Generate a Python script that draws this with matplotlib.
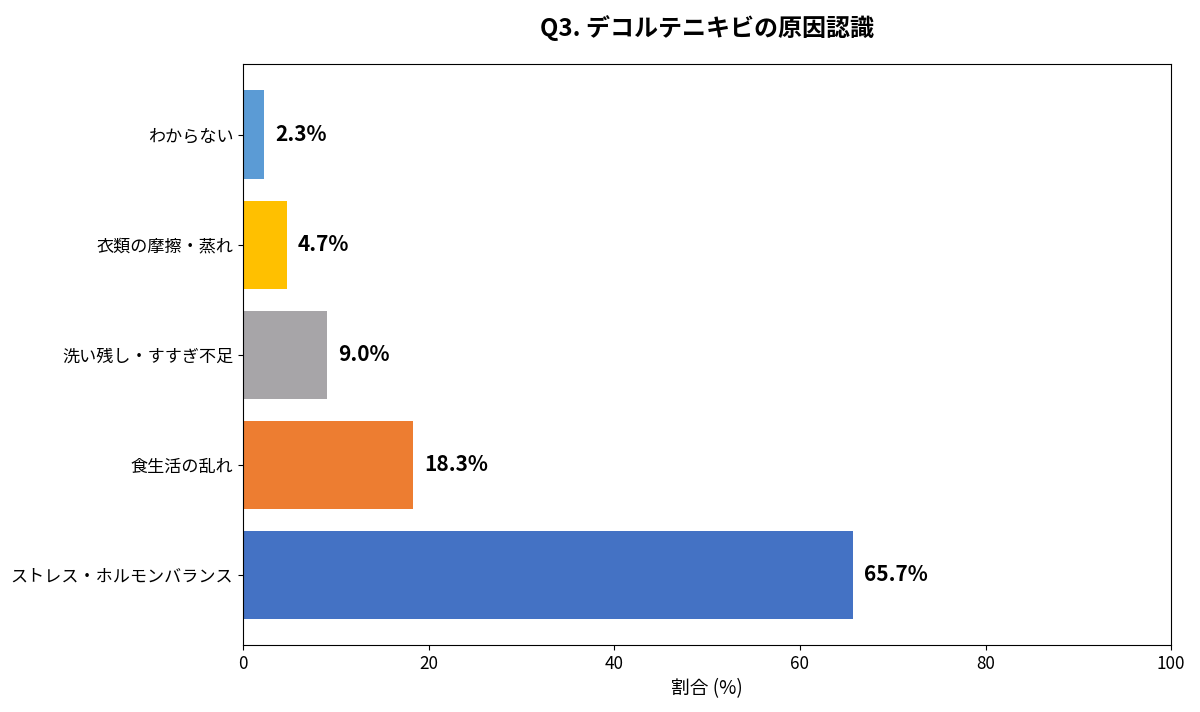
import matplotlib
matplotlib.use("Agg")
import matplotlib.pyplot as plt

plt.rcParams['font.family'] = ['Noto Sans CJK JP', 'DejaVu Sans']

# data (bottom to top)
categories = ['ストレス・ホルモンバランス', '食生活の乱れ', '洗い残し・すすぎ不足', '衣類の摩擦・蒸れ', 'わからない']
values = [65.7, 18.3, 9.0, 4.7, 2.3]
colors = ['#4472C4', '#ED7D31', '#A7A5A8', '#FFC000', '#5B9BD5']

fig, ax = plt.subplots(figsize=(12, 7.12), dpi=100)
fig.subplots_adjust(left=0.2025, right=0.976, top=0.91, bottom=0.094)

bars = ax.barh(categories, values, color=colors, height=0.8)
for bar, v in zip(bars, values):
    ax.text(bar.get_width() + 1.2, bar.get_y() + bar.get_height() / 2, f'{v:.1f}%',
            va='center', ha='left', fontsize=15, fontweight='bold')

ax.set_xlim(0, 100)
ax.set_xlabel('割合 (%)', fontsize=13.5)
ax.set_title('Q3. デコルテニキビの原因認識', fontsize=17.3, fontweight='bold', pad=20)
ax.tick_params(axis='y', labelsize=12.3)
ax.tick_params(axis='x', labelsize=12.3)

fig.savefig('out.png', dpi=100)
